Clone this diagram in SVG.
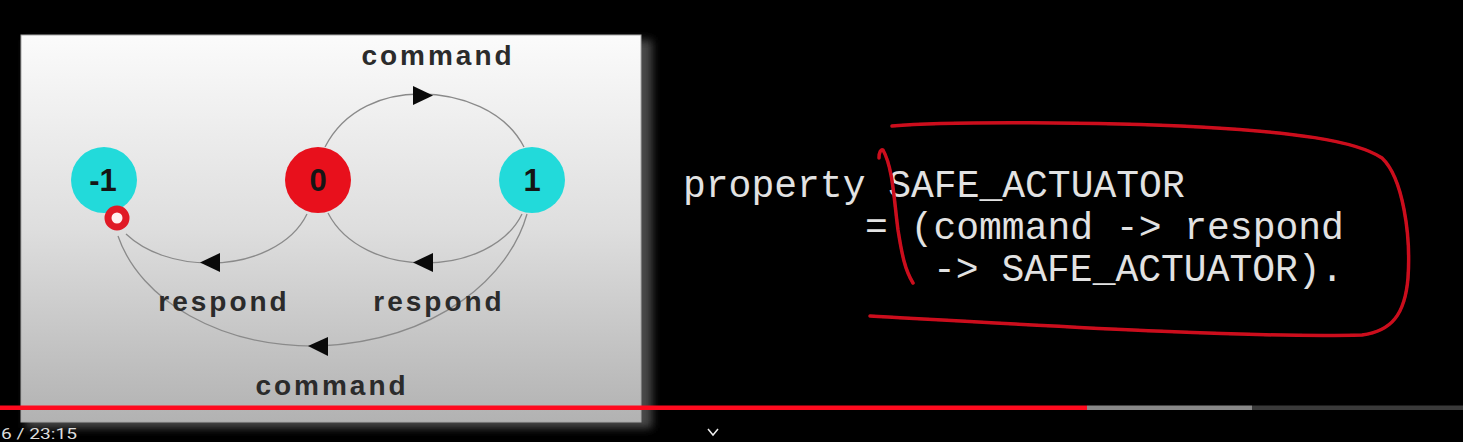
<svg xmlns="http://www.w3.org/2000/svg" width="1463" height="442" viewBox="0 0 1463 442">
<style>
.lbl{font-family:"Liberation Sans",Arial,sans-serif;font-weight:bold;font-size:28px;letter-spacing:3px;fill:#2b2b2b;text-anchor:middle}
.num{font-family:"Liberation Sans",Arial,sans-serif;font-weight:bold;font-size:31px;fill:#151515;text-anchor:middle}
.edge{fill:none;stroke:#8a8a8a;stroke-width:1.3}
.head{fill:#0a0a0a}
.code{font-family:"Liberation Mono","Courier New",monospace;font-size:38px;fill:#e2e2e2}
.ink{fill:none;stroke:#cc0f1e;stroke-width:3.5;stroke-linecap:round;stroke-linejoin:round}
</style>
<defs>
<linearGradient id="pg" x1="0" y1="0" x2="0" y2="1">
<stop offset="0" stop-color="#fbfbfb"/>
<stop offset="0.5" stop-color="#dedede"/>
<stop offset="1" stop-color="#b2b2b2"/>
</linearGradient>
<filter id="sh" x="-10%" y="-10%" width="120%" height="120%"><feGaussianBlur stdDeviation="4"/></filter>
<filter id="soft" x="-10%" y="-10%" width="120%" height="120%"><feGaussianBlur stdDeviation="0.6"/></filter>
</defs>
<rect x="0" y="0" width="1463" height="442" fill="#000"/>
<rect x="26" y="40" width="626" height="388" fill="#4a4a4a" filter="url(#sh)"/>
<rect x="21" y="35" width="620" height="387" fill="url(#pg)" stroke="#a8a8a8" stroke-width="1"/>

<g id="connectors">
<path class="edge" d="M 325 147 C 345 108, 385 94, 420 94 C 460 94, 505 110, 524 147"/>
<path class="head" d="M 413 86 L 433 95.5 L 413 105 Z"/>
<path class="edge" d="M 307 214 C 292 245, 252 263, 210 263 C 175 263, 145 252, 126 234"/>
<path class="head" d="M 200 262.5 L 220 253 L 220 272 Z"/>
<path class="edge" d="M 522 214 C 507 245, 467 263, 425 263 C 385 263, 345 246, 328 213"/>
<path class="head" d="M 413 262.5 L 433 253 L 433 272 Z"/>
<path class="edge" d="M 527 214 C 510 275, 440 340, 320 346 C 220 348, 140 300, 118 236"/>
<path class="head" d="M 308 346 L 328 337 L 328 356 Z"/>
</g>

<g id="node-minus1">
<circle cx="104" cy="180" r="33" fill="#22dada"/>
<text class="num" x="103" y="191">-1</text>
</g>
<g id="node-0">
<circle cx="318" cy="180" r="33" fill="#e8101c"/>
<text class="num" x="318" y="191" fill="#2a0000">0</text>
</g>
<g id="node-1">
<circle cx="532" cy="180" r="33" fill="#22dada"/>
<text class="num" x="532" y="191">1</text>
</g>
<g id="marker-ring">
<circle cx="117" cy="218" r="9" fill="#fff0f0" stroke="#e01a26" stroke-width="7"/>
</g>

<g id="labels">
<text class="lbl" x="438" y="65">command</text>
<text class="lbl" x="224" y="311">respond</text>
<text class="lbl" x="439" y="311">respond</text>
<text class="lbl" x="332" y="395">command</text>
</g>

<g id="code">
<text class="code" x="683" y="197">property SAFE_ACTUATOR</text>
<text class="code" x="865" y="239">= (command -&gt; respond</text>
<text class="code" x="933" y="281">-&gt; SAFE_ACTUATOR).</text>
</g>

<g id="annotation" filter="url(#soft)">
<path class="ink" d="M 892 126 C 950 121, 1100 122, 1200 127 C 1290 132, 1355 140, 1382 158 C 1403 178, 1411 235, 1408 278 C 1405 314, 1392 331, 1362 335 C 1250 338, 1050 326, 870 316"/>
<path class="ink" d="M 879 158 C 879 152, 881 149, 883 150 C 893 168, 894 200, 898 230 C 902 255, 905 270, 913 283"/>
</g>

<g id="player">
<rect x="0" y="405.5" width="1087" height="4.5" fill="#ff0a1e"/>
<rect x="1087" y="405.5" width="165" height="4.5" fill="#888"/>
<rect x="1252" y="405.5" width="211" height="4.5" fill="#3a3a3a"/>
<text x="1" y="439" font-family="Roboto,'Liberation Sans',sans-serif" font-size="15" fill="#dddddd" textLength="76" lengthAdjust="spacingAndGlyphs">6 / 23:15</text>
<path d="M 708 429 L 713 435 L 718 429" fill="none" stroke="#eee" stroke-width="1.5"/>
</g>
</svg>
